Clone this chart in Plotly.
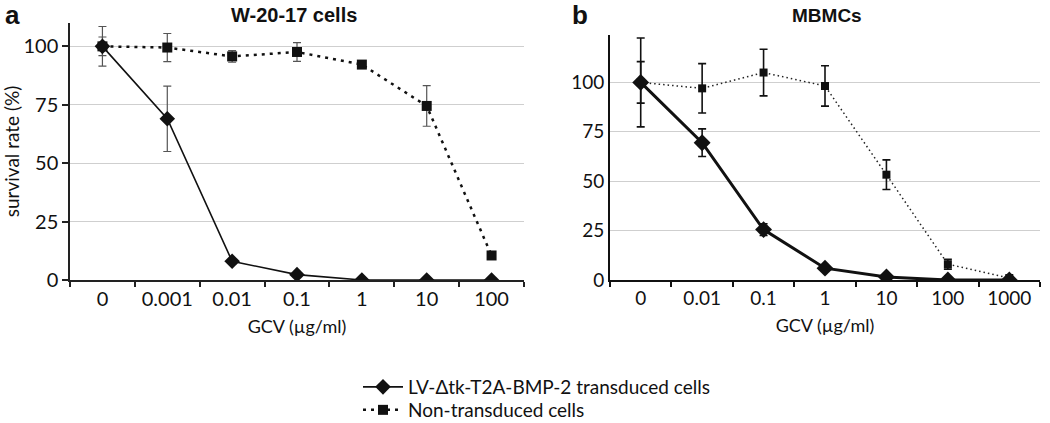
import plotly.graph_objects as go

# ---- data ----
cats_a = ["0", "0.001", "0.01", "0.1", "1", "10", "100"]
trans_a = [100, 69, 8, 2.3, 0, 0, 0]
trans_a_err = [8.5, 14, 1.2, 0.8, 0.3, 0.2, 0.2]
non_a = [100, 99.5, 95.7, 97.6, 92.2, 74.5, 10.5]
non_a_err = [4, 6, 2.5, 4, 1.5, 8.7, 0.5]

cats_b = ["0", "0.01", "0.1", "1", "10", "100", "1000"]
trans_b = [100, 69.5, 25.5, 6, 1.5, 0, 0]
trans_b_err = [10.5, 7, 3, 1, 0.5, 0.3, 0.2]
non_b = [100, 97, 105, 98.2, 53.3, 8, 1]
non_b_err = [22.5, 12.5, 11.8, 10.2, 7.5, 2.5, 0.5]

name_trans = "LV-\u0394tk-T2A-BMP-2 transduced cells"
name_non = "Non-transduced cells"
title_a = "W-20-17 cells"
title_b = "MBMCs"
xtitle = "GCV (\u00b5g/ml)"
ytitle = "survival rate (%)"
yticks = [0, 25, 50, 75, 100]

W, H = 1050, 423


def px(x):
    return x / W


def py(y):
    return 1 - y / H


fig = go.Figure()

# panel a
fig.add_trace(go.Scatter(
    x=cats_a, y=non_a, name=name_non, xaxis="x", yaxis="y", mode="lines+markers",
    line=dict(color="#111", width=2.5, dash="3px,5px"),
    marker=dict(symbol="square", size=10, color="#111"),
    error_y=dict(type="data", array=non_a_err, color="#555", thickness=1.2, width=4),
    legend="legend2"))
fig.add_trace(go.Scatter(
    x=cats_a, y=trans_a, name=name_trans, xaxis="x", yaxis="y", mode="lines+markers",
    line=dict(color="#111", width=1.6),
    marker=dict(symbol="diamond", size=12, color="#111"),
    error_y=dict(type="data", array=trans_a_err, color="#555", thickness=1.2, width=4),
    legend="legend"))

# panel b
fig.add_trace(go.Scatter(
    x=cats_b, y=non_b, name=name_non, xaxis="x2", yaxis="y2", mode="lines+markers",
    line=dict(color="#222", width=1.5, dash="1.5px,3px"),
    marker=dict(symbol="square", size=8, color="#111"),
    error_y=dict(type="data", array=non_b_err, color="#111", thickness=1.6, width=4),
    showlegend=False))
fig.add_trace(go.Scatter(
    x=cats_b, y=trans_b, name=name_trans, xaxis="x2", yaxis="y2", mode="lines+markers",
    line=dict(color="#111", width=3),
    marker=dict(symbol="diamond", size=13, color="#111"),
    error_y=dict(type="data", array=trans_b_err, color="#111", thickness=1.6, width=4),
    showlegend=False))

fam = "Lato, Open Sans, sans-serif"
tickfont_a = dict(family=fam, size=20, color="#111")
tickfont_b = dict(family=fam, size=19, color="#111")
titlefont = dict(family=fam, size=18, color="#111")
legfont = dict(family=fam, size=19, color="#111")

fig.update_layout(
    width=W, height=H,
    margin=dict(l=0, r=0, t=0, b=0, autoexpand=False),
    paper_bgcolor="white", plot_bgcolor="white",
    xaxis=dict(domain=[px(70), px(524)], anchor="y", type="category", automargin=False,
               range=[-0.5, 6.5], tickson="boundaries", ticks="outside", ticklen=5,
               tickcolor="#222", tickwidth=1.5, showline=True, linecolor="#222",
               linewidth=1.5, showgrid=False, tickfont=tickfont_a,
               title=dict(text=xtitle, font=titlefont, standoff=12)),
    yaxis=dict(domain=[py(280), py(23)], anchor="x", range=[0, 110], tickvals=yticks,
               automargin=False,
               ticks="outside", ticklen=6, tickcolor="#222", tickwidth=1.5,
               showline=True, linecolor="#222", linewidth=1.5,
               showgrid=True, gridcolor="#cfcfcf", gridwidth=1, zeroline=False,
               tickfont=tickfont_a,
               title=dict(text=ytitle, font=dict(family=fam, size=19, color="#111"), standoff=6)),
    xaxis2=dict(domain=[px(610), px(1040)], anchor="y2", type="category", automargin=False,
                range=[-0.5, 6.5], tickson="boundaries", ticks="outside", ticklen=5,
                tickcolor="#111", tickwidth=1.5, showline=True, linecolor="#111",
                linewidth=2, showgrid=False, tickfont=tickfont_b,
                title=dict(text=xtitle, font=titlefont, standoff=12)),
    yaxis2=dict(domain=[py(280), py(35)], anchor="x2", range=[0, 124], tickvals=yticks,
                automargin=False,
                ticks="", showline=True, linecolor="#111", linewidth=2,
                showgrid=True, gridcolor="#cfcfcf", gridwidth=1, zeroline=False,
                tickfont=tickfont_b),
    legend=dict(x=px(358), y=py(368), xanchor="left", yanchor="top", font=legfont,
                bgcolor="rgba(0,0,0,0)", itemwidth=40),
    legend2=dict(x=px(358), y=py(391), xanchor="left", yanchor="top", font=legfont,
                 bgcolor="rgba(0,0,0,0)", itemwidth=40),
    showlegend=True,
)

ann_font_b = dict(family="Liberation Sans, Arial, sans-serif", size=20, color="#111")
fig.add_annotation(text="<b>" + title_a + "</b>", xref="paper", yref="paper",
                   x=px(294), y=py(15), showarrow=False, font=ann_font_b,
                   xanchor="center", yanchor="middle")
fig.add_annotation(text="<b>" + title_b + "</b>", xref="paper", yref="paper",
                   x=px(827), y=py(15), showarrow=False,
                   font=dict(family="Liberation Sans, Arial, sans-serif", size=19, color="#111"),
                   xanchor="center", yanchor="middle")
letter_font = dict(family="Liberation Sans, Arial, sans-serif", size=26, color="#111")
fig.add_annotation(text="<b>a</b>", xref="paper", yref="paper",
                   x=px(3), y=py(15), showarrow=False, font=letter_font,
                   xanchor="left", yanchor="middle")
fig.add_annotation(text="<b>b</b>", xref="paper", yref="paper",
                   x=px(570), y=py(15), showarrow=False, font=letter_font,
                   xanchor="left", yanchor="middle")

fig.write_html(
    "out.html",
    config={"displayModeBar": False},
    post_script="document.body.style.margin='0';document.body.style.overflow='hidden';",
)
